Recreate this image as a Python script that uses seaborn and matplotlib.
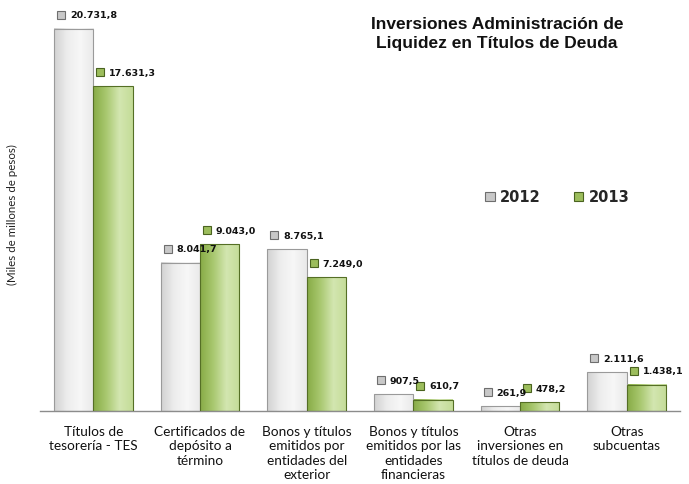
import numpy as np
import pandas as pd
import matplotlib
matplotlib.use("Agg")
import matplotlib.pyplot as plt
import seaborn as sns
from matplotlib.colors import LinearSegmentedColormap
from matplotlib.transforms import offset_copy

# ==========================================
# Data (miles de millones de pesos)
# ==========================================
categories = [
    "Títulos de\ntesorería - TES",
    "Certificados de\ndepósito a\ntérmino",
    "Bonos y títulos\nemitidos por\nentidades del\nexterior",
    "Bonos y títulos\nemitidos por las\nentidades\nfinancieras",
    "Otras\ninversiones en\ntítulos de deuda",
    "Otras\nsubcuentas",
]
years = ["2012", "2013"]
values_2012 = [20731.8, 8041.7, 8765.1, 907.5, 261.9, 2111.6]
values_2013 = [17631.3, 9043.0, 7249.0, 610.7, 478.2, 1438.1]

df = pd.DataFrame({
    "Categoria": categories * 2,
    "Año": [years[0]] * len(categories) + [years[1]] * len(categories),
    "Valor": values_2012 + values_2013,
})

def fmt(v):
    # Spanish number format: 20.731,8
    s = f"{v:,.1f}"
    return s.replace(",", "X").replace(".", ",").replace("X", ".")

# ==========================================
# Plot
# ==========================================
sns.set_style("white")
plt.rcParams["font.family"] = ["DejaVu Sans"]

fig = plt.figure(figsize=(6.89, 4.85), dpi=100)
ax = fig.add_axes([40 / 689, 73 / 485, 640 / 689, 407 / 485])

gray_cmap = LinearSegmentedColormap.from_list("g", ["#d2d2d2", "#ededed", "#f7f7f7", "#e9e9e9"])
green_cmap = LinearSegmentedColormap.from_list("v", ["#88ac46", "#a9c870", "#d3e6b0", "#c4dc98"])
palette = {"2012": "#e4e4e4", "2013": "#a6c46a"}
edges = {"2012": "#9a9a9a", "2013": "#556f25"}
square_face = {"2012": "#c8c8c8", "2013": "#9cbd5c"}
square_edge = {"2012": "#6e6e6e", "2013": "#4a6320"}

sns.barplot(data=df, x="Categoria", y="Valor", hue="Año", palette=palette,
            width=0.74, gap=0, saturation=1, ax=ax, legend=True)

grad = np.linspace(0, 1, 64).reshape(1, -1)
for year, cont, cmap in zip(years, ax.containers, [gray_cmap, green_cmap]):
    for patch in cont:
        x0 = patch.get_x()
        w = patch.get_width()
        h = patch.get_height()
        patch.set_facecolor("none")
        patch.set_edgecolor(edges[year])
        patch.set_linewidth(0.8)
        patch.set_zorder(3)
        ax.imshow(grad, cmap=cmap, extent=[x0, x0 + w, 0, h], aspect="auto", zorder=2)

        # value label with small square marker
        tr_sq = offset_copy(ax.transData, fig=fig, x=7, y=14, units="dots")
        ax.plot(x0, h, marker="s", markersize=5.8, markerfacecolor=square_face[year],
                markeredgecolor=square_edge[year], markeredgewidth=0.8,
                transform=tr_sq, zorder=5, clip_on=False)
        ax.annotate(fmt(h), xy=(x0, h), xytext=(16, 14), textcoords="offset pixels",
                    ha="left", va="center", fontsize=6.8, fontweight="bold",
                    color="#111111", zorder=6, annotation_clip=False)

ax.set_xlim(-0.5, len(categories) - 0.5)
ax.set_ylim(0, 22088)

# axes cosmetics
for side in ["top", "right", "left"]:
    ax.spines[side].set_visible(False)
ax.spines["bottom"].set_color("#8c8c8c")
ax.spines["bottom"].set_linewidth(1.0)
ax.set_yticks([])
ax.tick_params(axis="x", length=0, pad=10)
for lbl in ax.get_xticklabels():
    lbl.set_fontfamily("Lato")
    lbl.set_fontsize(9.8)
    lbl.set_linespacing(1.25)
    lbl.set_color("#111111")
ax.set_xlabel("")
ax.set_ylabel("(Miles de millones de pesos)", fontsize=8.3, fontfamily="Lato", color="#222222")
ax.yaxis.set_label_coords(-0.034, 0.485)

# legend
handles, labels = ax.get_legend_handles_labels()
for hd, yr in zip(handles, labels):
    hd.set_facecolor(square_face[yr])
    hd.set_edgecolor(square_edge[yr])
    hd.set_linewidth(0.8)
ax.legend(handles, labels, loc="center left", bbox_to_anchor=(472 / 689, 1 - 198 / 485),
          bbox_transform=fig.transFigure, ncol=2, frameon=False,
          handlelength=0.65, handleheight=0.65, handletextpad=0.35, columnspacing=2.3,
          prop={"weight": "bold", "size": 10.5})

# title
fig.text(497 / 689, 1 - 34 / 485,
         "Inversiones Administración de\nLiquidez en Títulos de Deuda",
         ha="center", va="center", fontsize=12.5, fontweight="bold",
         fontfamily="Liberation Sans", linespacing=1.35, color="#111111")

plt.savefig("out.png", dpi=100)
